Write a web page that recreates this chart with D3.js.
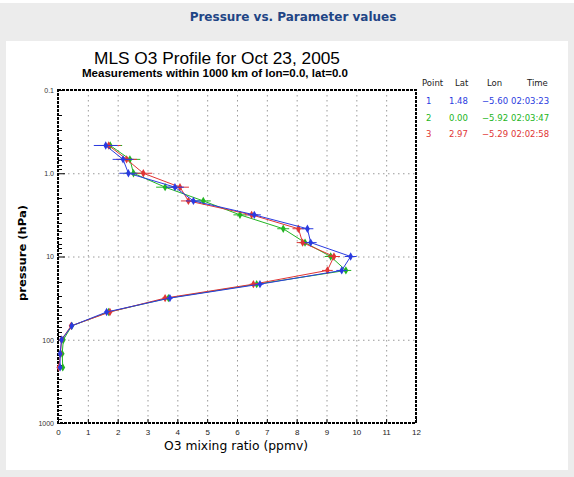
<!DOCTYPE html>
<html>
<head>
<meta charset="utf-8">
<script src="https://cdn.jsdelivr.net/npm/d3@7"></script>
<style>
  body { margin: 0; background: #ffffff; }
  svg { display: block; font-family: "DejaVu Sans", Verdana, sans-serif; }
</style>
</head>
<body>
<script>
// MLS pressure levels (hPa)
var pressure = [0.464, 0.681, 1.0, 1.47, 2.15, 3.16, 4.64, 6.81, 10, 14.7, 21.5, 31.6, 46.4, 68.1, 100, 147, 215];

// O3 values (ppmv), one array per profile
var o3Point1 = [1.60, 2.18, 2.36, 3.92, 4.54, 6.58, 8.36, 8.47, 9.81, 9.51, 6.77, 3.75, 1.63, 0.46, 0.12, 0.07, 0.07];
var o3Point2 = [1.75, 2.41, 2.53, 3.59, 4.87, 6.10, 7.55, 8.28, 9.14, 9.65, 6.66, 3.70, 1.70, 0.46, 0.18, 0.14, 0.16];
var o3Point3 = [1.70, 2.30, 2.86, 4.09, 4.37, 6.49, 8.06, 8.20, 9.25, 9.03, 6.55, 3.59, 1.74, 0.44, 0.12, 0.08, 0.03];

// precision (ppmv) per level, used for the horizontal error bars
var precision = [0.40, 0.35, 0.30, 0.30, 0.25, 0.22, 0.20, 0.20, 0.20, 0.18, 0.12, 0.10, 0.08, 0.05, 0.03, 0.03, 0.03];

// legend table
var pointIds = ["1", "2", "3"];
var pointLat = ["1.48", "0.00", "2.97"];
var pointLon = ["\u22125.60", "\u22125.92", "\u22125.29"];
var pointTime = ["02:03:23", "02:03:47", "02:02:58"];
var pointColors = ["#2a3be0", "#22b522", "#e03535"];

var xTicks = [0, 1, 2, 3, 4, 5, 6, 7, 8, 9, 10, 11, 12];
var yTicks = [0.1, 1, 10, 100, 1000];
var yTickLabels = ["0.1", "1.0", "10", "100", "1000"];

var width = 574, height = 477;

var svg = d3.select("body").append("svg")
  .attr("width", width)
  .attr("height", height);

// page background + white panel
svg.append("rect").attr("width", width).attr("height", height).attr("fill", "#ececec");
svg.append("rect").attr("x", 0).attr("y", 0).attr("width", width).attr("height", 3).attr("fill", "#ffffff");
svg.append("rect").attr("x", 6).attr("y", 41).attr("width", 562).attr("height", 429).attr("fill", "#ffffff");

svg.append("text")
  .attr("x", 293).attr("y", 21)
  .attr("text-anchor", "middle")
  .attr("font-size", 12).attr("font-weight", "bold")
  .attr("fill", "#1f4585")
  .text("Pressure vs. Parameter values");

// scales
var x = d3.scaleLinear().domain([0, 12]).range([58, 416]);
var y = d3.scaleLog().domain([0.1, 1000]).range([90, 423]);

// grid
var grid = svg.append("g").attr("stroke", "#9a9a9a").attr("stroke-width", 1).attr("stroke-dasharray", "1.5,3.5");
grid.selectAll(".gx").data(xTicks.slice(1, -1)).enter().append("line")
  .attr("x1", function(d){ return x(d) + 0.5; }).attr("x2", function(d){ return x(d) + 0.5; })
  .attr("y1", y(0.1)).attr("y2", y(1000));
grid.selectAll(".gy").data(yTicks.slice(1, -1)).enter().append("line")
  .attr("y1", function(d){ return y(d) + 0.5; }).attr("y2", function(d){ return y(d) + 0.5; })
  .attr("x1", x(0)).attr("x2", x(12));

// left axis with minor log ticks pointing inward
var minor = y.ticks().filter(function(d){ return yTicks.indexOf(d) < 0; });
svg.append("g").selectAll("line").data(minor).enter().append("line")
  .attr("x1", x(0)).attr("x2", x(0) + 4)
  .attr("y1", function(d){ return Math.round(y(d)) + 0.5; })
  .attr("y2", function(d){ return Math.round(y(d)) + 0.5; })
  .attr("stroke", "#000");

var yAxis = d3.axisLeft(y).tickValues(yTicks).tickSize(-7)
  .tickFormat(function(d, i){ return yTickLabels[i]; });
var gy = svg.append("g").attr("transform", "translate(" + x(0) + ",0)").call(yAxis);
gy.select(".domain").remove();
gy.selectAll("text").attr("font-size", 7).attr("fill", "#333").attr("x", -4)
  .attr("font-family", "Arial, Liberation Sans, sans-serif");

var xAxis = d3.axisBottom(x).tickValues(xTicks).tickSize(-4).tickFormat(d3.format("d"));
var gx = svg.append("g").attr("transform", "translate(0," + y(1000) + ")").call(xAxis);
gx.select(".domain").remove();
gx.selectAll("text").attr("font-size", 8).attr("fill", "#222").attr("y", 6)
  .attr("font-family", "Arial, Liberation Sans, sans-serif");

// frame
svg.append("rect")
  .attr("x", x(0)).attr("y", y(0.1))
  .attr("width", x(12) - x(0)).attr("height", y(1000) - y(0.1))
  .attr("fill", "none").attr("stroke", "#000").attr("stroke-width", 2)
  .attr("stroke-dasharray", "3,1");

// profiles
var series = [
  { values: o3Point2, color: pointColors[1] },
  { values: o3Point3, color: pointColors[2] },
  { values: o3Point1, color: pointColors[0] }
];

var line = d3.line()
  .x(function(d){ return x(d[0]); })
  .y(function(d){ return y(d[1]); });

var diamond = d3.symbol().type(d3.symbolDiamond).size(20);

series.forEach(function(s){
  var pts = s.values.map(function(v, i){ return [v, pressure[i], precision[i]]; });
  var g = svg.append("g");
  g.append("path").datum(pts)
    .attr("d", line)
    .attr("fill", "none").attr("stroke", s.color).attr("stroke-width", 1);
  g.selectAll(".err").data(pts).enter().append("line")
    .attr("x1", function(d){ return x(d[0] - d[2]); })
    .attr("x2", function(d){ return x(d[0] + d[2]); })
    .attr("y1", function(d){ return y(d[1]); })
    .attr("y2", function(d){ return y(d[1]); })
    .attr("stroke", s.color).attr("stroke-width", 1);
  g.selectAll(".pt").data(pts).enter().append("path")
    .attr("d", diamond)
    .attr("transform", function(d){ return "translate(" + x(d[0]) + "," + y(d[1]) + ")"; })
    .attr("fill", s.color);
});

// titles
svg.append("text").attr("x", 217).attr("y", 64).attr("text-anchor", "middle")
  .attr("font-size", 17).attr("font-family", "Liberation Sans, Arial, sans-serif")
  .attr("textLength", 246).attr("lengthAdjust", "spacingAndGlyphs")
  .text("MLS O3 Profile for Oct 23, 2005");
svg.append("text").attr("x", 215).attr("y", 77).attr("text-anchor", "middle")
  .attr("font-size", 10.5).attr("font-weight", "bold").attr("font-family", "Liberation Sans, Arial, sans-serif")
  .attr("textLength", 266).attr("lengthAdjust", "spacingAndGlyphs")
  .text("Measurements within 1000 km of lon=0.0, lat=0.0");
svg.append("text").attr("x", 236).attr("y", 450).attr("text-anchor", "middle")
  .attr("font-size", 11.5).attr("font-family", "DejaVu Sans, sans-serif")
  .attr("textLength", 144).attr("lengthAdjust", "spacingAndGlyphs")
  .text("O3 mixing ratio (ppmv)");
svg.append("text")
  .attr("transform", "translate(26,253) rotate(-90)")
  .attr("text-anchor", "middle")
  .attr("font-size", 11).attr("font-weight", "bold").attr("font-family", "DejaVu Sans, sans-serif")
  .attr("textLength", 96).attr("lengthAdjust", "spacingAndGlyphs")
  .text("pressure (hPa)");

// legend table
var leg = svg.append("g").attr("font-size", 8.5).attr("font-family", "DejaVu Sans, sans-serif");
var heads = [["Point", 422], ["Lat", 455], ["Lon", 487], ["Time", 527]];
heads.forEach(function(h){
  leg.append("text").attr("x", h[1]).attr("y", 86).attr("fill", "#222").text(h[0]);
});
pointIds.forEach(function(id, i){
  var ry = 104 + i * 16.5;
  var c = pointColors[i];
  leg.append("text").attr("x", 426).attr("y", ry).attr("fill", c).text(id);
  leg.append("text").attr("x", 449).attr("y", ry).attr("fill", c).text(pointLat[i]);
  leg.append("text").attr("x", 482).attr("y", ry).attr("fill", c).text(pointLon[i]);
  leg.append("text").attr("x", 511).attr("y", ry).attr("fill", c).text(pointTime[i]);
});
</script>
</body>
</html>
